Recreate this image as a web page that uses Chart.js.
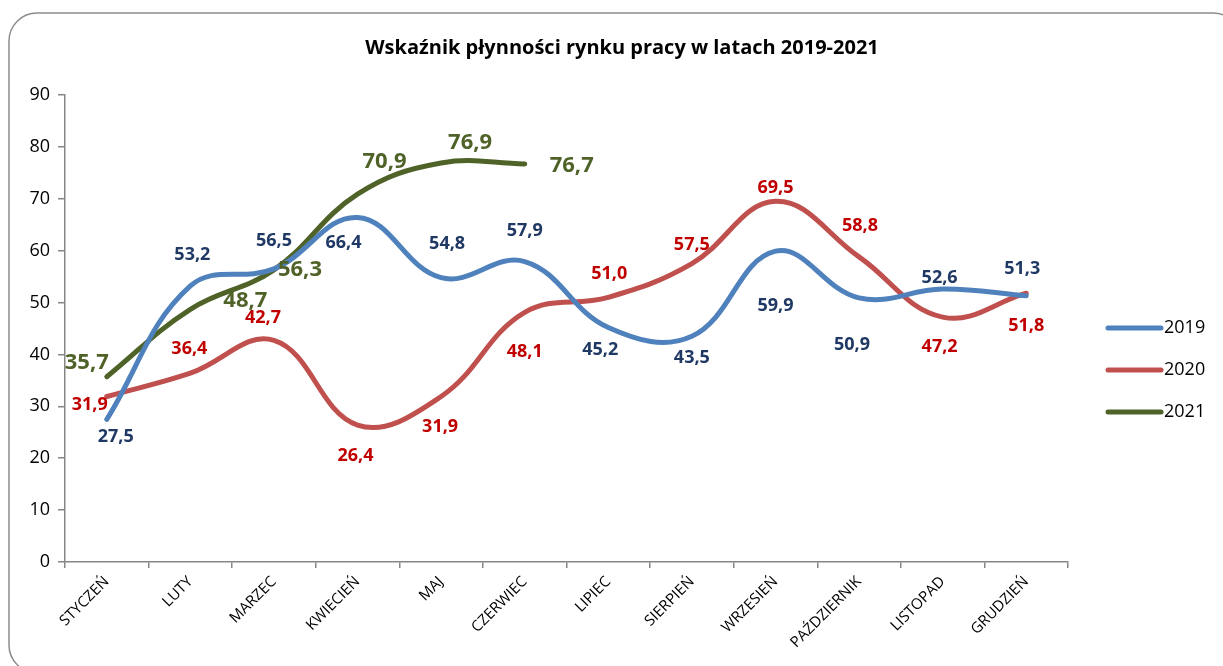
<!DOCTYPE html>
<html>
<head>
<meta charset="utf-8">
<script src="https://cdn.jsdelivr.net/npm/chart.js@4.4.1/dist/chart.umd.min.js"></script>
<style>
  html, body { margin: 0; padding: 0; background: #fff; }
  #wrap { width: 1223px; height: 666px; }
</style>
</head>
<body>
<div id="wrap"><canvas id="wykres" width="1223" height="666"></canvas></div>
<script>
const miesiace = ["STYCZEŃ", "LUTY", "MARZEC", "KWIECIEŃ", "MAJ", "CZERWIEC", "LIPIEC", "SIERPIEŃ", "WRZESIEŃ", "PAŹDZIERNIK", "LISTOPAD", "GRUDZIEŃ"]
const rok2019 = [27.5, 53.2, 56.5, 66.4, 54.8, 57.9, 45.2, 43.5, 59.9, 50.9, 52.6, 51.3]
const rok2020 = [31.9, 36.4, 42.7, 26.4, 31.9, 48.1, 51.0, 57.5, 69.5, 58.8, 47.2, 51.8]
const rok2021 = [35.7, 48.7, 56.3, 70.9, 76.9, 76.7]
const osY = [0, 10, 20, 30, 40, 50, 60, 70, 80, 90]

// przesuniecia etykiet [dx, dy] wzgledem punktu
const etyk2019 = [[9,18],[2,-31],[0,-28],[-14,25],[6,-34],[0,-31],[-8,22],[0,22],[0,55],[-7,47],[-3,-11],[-4,-27]]
const etyk2020 = [[-17,8],[-1,-24],[-11,-23],[-2,31],[-1,30],[0,39],[1,-23],[0,-19],[0,-13],[1,-31],[-3,30],[0,33]]
const etyk2021 = [[-20,-14],[55,-9],[26,0],[27,-32],[29,-20],[47,2]]

const FONT = "'Open Sans', sans-serif"

const ramka = {
  id: "ramka",
  beforeDraw(chart) {
    const c = chart.ctx
    c.save()
    c.fillStyle = "#fff"
    c.fillRect(0, 0, chart.width, chart.height)
    c.strokeStyle = "#8c8c8c"
    c.lineWidth = 1.5
    c.beginPath()
    c.roundRect(9, 13, 1232, 660, 28)
    c.stroke()
    c.fillStyle = "#000"
    c.font = "bold 20px " + FONT
    c.textAlign = "center"
    c.textBaseline = "middle"
    c.fillText("Wskaźnik płynności rynku pracy w latach 2019-2021", 622, 48)
    c.restore()
  }
}

const etykiety = {
  id: "etykiety",
  afterDatasetsDraw(chart) {
    const c = chart.ctx
    c.save()
    c.textAlign = "center"
    c.textBaseline = "middle"
    chart.data.datasets.forEach((ds, i) => {
      const meta = chart.getDatasetMeta(i)
      c.fillStyle = ds.kolorEtykiet
      c.font = "bold " + ds.rozmiarEtykiet + "px " + FONT
      meta.data.forEach((p, j) => {
        const off = ds.przesuniecia[j]
        c.fillText(ds.data[j].toFixed(1).replace(".", ","), p.x + off[0], p.y + off[1])
      })
    })
    // legenda
    c.font = "18px " + FONT
    c.textAlign = "left"
    c.lineCap = "round"
    chart.data.datasets.forEach((ds, i) => {
      const y = 328 + i * 42
      c.strokeStyle = ds.borderColor
      c.lineWidth = 5
      c.beginPath()
      c.moveTo(1108, y)
      c.lineTo(1161, y)
      c.stroke()
      c.fillStyle = "#000"
      c.fillText(ds.label, 1164, y)
    })
    c.restore()
  }
}

const data = {
  labels: miesiace,
  datasets: [
    {
      label: "2019",
      data: rok2019,
      borderColor: "#4F81BD",
      kolorEtykiet: "#1F3864",
      rozmiarEtykiet: 18,
      przesuniecia: etyk2019
    },
    {
      label: "2020",
      data: rok2020,
      borderColor: "#C0504D",
      kolorEtykiet: "#C00000",
      rozmiarEtykiet: 18,
      przesuniecia: etyk2020
    },
    {
      label: "2021",
      data: rok2021,
      borderColor: "#4F6228",
      kolorEtykiet: "#4F6228",
      rozmiarEtykiet: 22,
      przesuniecia: etyk2021
    }
  ]
}

const config = {
  type: "line",
  data: data,
  options: {
    responsive: false,
    animation: false,
    layout: { padding: { left: 0, right: 155, top: 95, bottom: 0 } },
    elements: {
      line: { borderWidth: 5, tension: 0.4, borderCapStyle: "round", fill: false },
      point: { radius: 0, hoverRadius: 0 }
    },
    plugins: {
      legend: { display: false },
      tooltip: { enabled: false }
    },
    scales: {
      x: {
        offset: true,
        grid: { offset: true, drawOnChartArea: false, drawTicks: true, tickLength: 6, color: "#868686", lineWidth: 1.5 },
        border: { color: "#868686", width: 1.5 },
        ticks: { color: "#000", font: { family: FONT, size: 15 }, minRotation: 45, maxRotation: 45, autoSkip: false, padding: 5 },
        afterFit(s) { s.height = 104 }
      },
      y: {
        min: 0,
        max: 90,
        afterBuildTicks(s) { s.ticks = osY.map(v => ({ value: v })) },
        grid: { drawOnChartArea: false, drawTicks: true, tickLength: 7, color: "#868686", lineWidth: 1.5 },
        border: { color: "#868686", width: 1.5 },
        ticks: { color: "#000", font: { family: FONT, size: 18 }, padding: 8 },
        afterFit(s) { s.width = 65 }
      }
    }
  },
  plugins: [ramka, etykiety]
}

const wykres = new Chart(document.getElementById("wykres"), config)
</script>
</body>
</html>
